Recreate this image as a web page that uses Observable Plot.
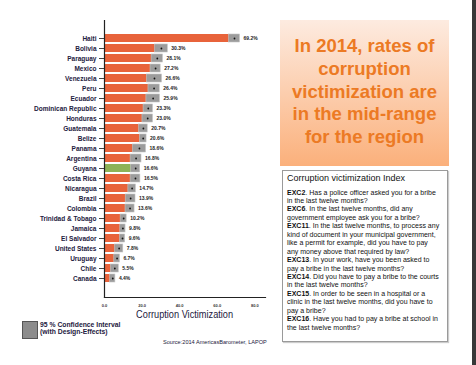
<!DOCTYPE html>
<html><head><meta charset="utf-8">
<script src="https://cdn.jsdelivr.net/npm/d3@7"></script>
<script src="https://cdn.jsdelivr.net/npm/@observablehq/plot@0.6"></script>
<style>
body{margin:0;background:#fff;width:476px;height:365px;overflow:hidden;position:relative;font-family:"Liberation Sans",Arial,sans-serif;}
#chart{position:absolute;left:0;top:0;}
#xtitle{position:absolute;left:104px;width:161px;top:308px;text-align:center;font-size:11.5px;color:#1d2040;white-space:nowrap;}
#xtitle span{display:inline-block;transform:scaleX(0.8);}
#legbox{position:absolute;left:22px;top:321px;width:14px;height:16px;background:#8c8c8c;border:1px solid #555;}
#legtext{position:absolute;left:40px;top:321px;font-size:6.8px;line-height:7px;font-weight:bold;color:#1d2040;}
#source{position:absolute;left:163px;top:339px;font-size:5.6px;color:#1d2040;white-space:nowrap;}
#headline{position:absolute;left:280px;top:20px;width:169px;height:146px;background:linear-gradient(to bottom,#fdebe0,#fbb07b);box-sizing:border-box;padding-top:15px;text-align:center;color:#ec7a24;font-weight:bold;font-size:18.5px;line-height:22.75px;}
#infobox{position:absolute;left:282px;top:170px;width:166px;height:172px;box-sizing:border-box;border:1px solid #9a9a9a;padding:2px 4px;color:#111;box-shadow:1px 1px 1px #ccc;}
#infobox .t{font-size:9px;line-height:11px;margin-bottom:4.5px;white-space:nowrap;}
#infobox .b{font-size:7px;line-height:8.45px;white-space:nowrap;}
#edge{position:absolute;left:472px;top:0;width:4px;height:365px;background:#383838;}
</style></head><body>
<div id="chart"></div>
<div id="xtitle"><span>Corruption Victimization</span></div>
<div id="legbox"></div>
<div id="legtext">95 % Confidence Interval<br>(with Design-Effects)</div>
<div id="source">Source:2014 AmericasBarometer, LAPOP</div>
<div id="headline">In 2014, rates of<br>corruption<br>victimization are<br>in the mid-range<br>for the region</div>
<div id="infobox"></div>
<div id="edge"></div>
<script>
const countries = ["Haiti","Bolivia","Paraguay","Mexico","Venezuela","Peru","Ecuador","Dominican Republic","Honduras","Guatemala","Belize","Panama","Argentina","Guyana","Costa Rica","Nicaragua","Brazil","Colombia","Trinidad & Tobago","Jamaica","El Salvador","United States","Uruguay","Chile","Canada"];
const values = [69.2,30.3,28.1,27.2,26.6,26.4,25.9,23.3,23.0,20.7,20.6,18.6,16.8,16.6,16.5,14.7,13.9,13.6,10.2,9.8,9.6,7.8,6.7,5.5,4.4];
const ciHalfWidth = [2.9,3.4,3.0,2.7,4.0,3.0,3.6,2.5,2.8,2.3,1.8,3.5,2.9,2.4,2.6,2.0,2.6,2.4,1.6,1.4,1.4,2.2,1.5,2.1,1.4];
const xTicks = [0,20,40,60,80];
const highlighted = ["Guyana"];
const infoTitle = "Corruption victimization Index";
const infoLines = [
 ["EXC2", ". Has a police officer asked you for a bribe"],
 ["", "in the last twelve months?"],
 ["EXC6", ". In the last twelve months, did any"],
 ["", "government employee ask you for a bribe?"],
 ["EXC11", ". In the last twelve months, to process any"],
 ["", "kind of document in your municipal government,"],
 ["", "like a permit for example, did you have to pay"],
 ["", "any money above that required by law?"],
 ["EXC13", ". In your work, have you been asked to"],
 ["", "pay a bribe in the last twelve months?"],
 ["EXC14", ". Did you have to pay a bribe to the courts"],
 ["", "in the last twelve months?"],
 ["EXC15", ". In order to be seen in a hospital or a"],
 ["", "clinic in the last twelve months, did you have to"],
 ["", "pay a bribe?"],
 ["EXC16", ". Have you had to pay a bribe at school in"],
 ["", "the last twelve months?"]
];

const box = document.getElementById("infobox");
box.innerHTML = `<div class="t">${infoTitle}</div>` + infoLines.map(([c,t]) => `<div class="b">${c?`<b>${c}</b>`:""}${t}</div>`).join("");

const data = countries.map((c,i)=>({country:c, value:values[i], lo:values[i]-ciHalfWidth[i], hi:values[i]+ciHalfWidth[i], label:values[i].toFixed(1)+"%", hl: highlighted.includes(c)}));

const navy = "#1d2040";
const plot = Plot.plot({
  width: 275, height: 322,
  marginLeft: 104, marginRight: 10, marginTop: 20, marginBottom: 25,
  style: {fontFamily: "Liberation Sans, Arial, sans-serif", background: "transparent", overflow: "visible"},
  x: {domain: [0, 85.7], label: null},
  y: {domain: countries, insetTop: 4, insetBottom: 4, padding: 0.18, label: null},
  marks: [
    Plot.barX(data.filter(d=>!d.hl), {y:"country", x:"value", fill:"#e8633b"}),
    Plot.barX(data.filter(d=>d.hl), {y:"country", x:"value", fill:"#8db257"}),
    Plot.barX(data, {y:"country", x1:"lo", x2:"hi", fill:"#9c9c9c", stroke:"#c4c4c4", strokeWidth:0.6}),
    Plot.dot(data, {y:"country", x:"value", r:0.9, fill:"#111", stroke:"none"}),
    Plot.text(data, {y:"country", x:"hi", text:"label", dx:3.5, textAnchor:"start", fontSize:5, fontWeight:"bold", fill:"#222"}),
    Plot.axisY({tickSize:5, tickPadding:3, fontSize:6.5, fontWeight:"bold", fill:navy, stroke:"#444", label:null}),
    Plot.axisX({ticks:xTicks, tickFormat:d=>d.toFixed(1), tickSize:0, tickPadding:7, fontSize:4, fontWeight:"bold", fill:"#333", label:null}),
    Plot.frame({anchor:"left", stroke:"#222", strokeWidth:1.2}),
    Plot.frame({anchor:"bottom", stroke:"#222", strokeWidth:1.2})
  ]
});
document.getElementById("chart").appendChild(plot);
</script>
</body></html>
